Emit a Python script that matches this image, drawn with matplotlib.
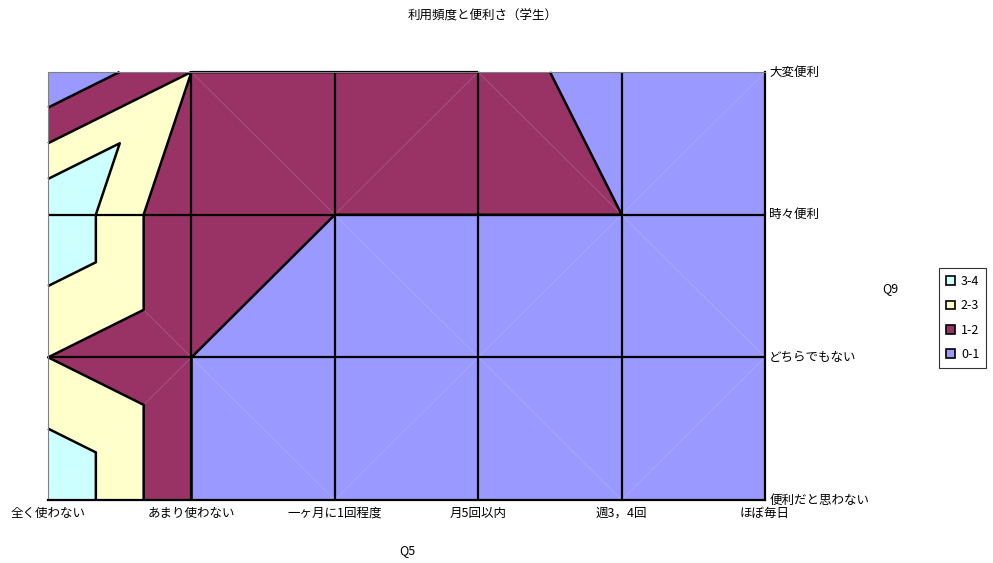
import numpy as np
import matplotlib
matplotlib.use('Agg')
import matplotlib.pyplot as plt
import matplotlib.tri as mtri
from matplotlib.patches import Patch

plt.rcParams['font.family'] = ['Noto Sans CJK JP', 'DejaVu Sans']

# Q5 利用頻度 (横軸) と Q9 便利さ (縦軸)
q5_labels = ['全く使わない', 'あまり使わない', '一ヶ月に1回程度', '月5回以内', '週3，4回', 'ほぼ毎日']
q9_labels = ['大変便利', '時々便利', 'どちらでもない', '便利だと思わない']  # 上から順

# 各行の値 (Q9 の上から順、列は Q5 の順)
z_taihen = [0, 2, 2, 2, 0, 0]
z_tokidoki = [4, 1, 1, 1, 1, 0]
z_dochira = [2, 1, 0, 0, 0, 0]
z_omowanai = [4, 1, 0, 0, 0, 0]

band_edges = [0, 1, 2, 3, 4]
band_labels = ['0-1', '1-2', '2-3', '3-4']
band_colors = ['#9999FF', '#993366', '#FFFFCC', '#CCFFFF']

Z = np.array([z_taihen, z_tokidoki, z_dochira, z_omowanai], dtype=float)
nrow, ncol = Z.shape

# 格子点 (行0が一番上)
xs, ys, zs = [], [], []
for i in range(nrow):
    for c in range(ncol):
        xs.append(c)
        ys.append(nrow - 1 - i)
        zs.append(Z[i, c])

def idx(i, c):
    return i * ncol + c

# セルごとに対角線の向きを交互に変えて三角形分割
triangles = []
for i in range(nrow - 1):
    for c in range(ncol - 1):
        tl, tr = idx(i, c), idx(i, c + 1)
        bl, br = idx(i + 1, c), idx(i + 1, c + 1)
        if (c + i) % 2 == 0:
            triangles += [[tl, tr, bl], [tr, br, bl]]
        else:
            triangles += [[tl, tr, br], [tl, br, bl]]

tri = mtri.Triangulation(xs, ys, triangles)

# 境界値ちょうどの点は上側の区間に入れる
eps = 1e-3
fill_levels = [v - eps for v in band_edges[:-1]] + [band_edges[-1] + eps]
line_levels = [v - eps for v in band_edges[1:-1]]

fig = plt.figure(figsize=(9.93, 5.63), dpi=100)
ax = fig.add_axes([48 / 993, 63 / 563, 717 / 993, 428 / 563])

ax.tricontourf(tri, zs, levels=fill_levels, colors=band_colors)
ax.triplot(tri, color='white', lw=0.5, alpha=0.2)
cs = ax.tricontour(tri, zs, levels=line_levels, colors='black', linewidths=1.8)
cs.set_clip_on(False)

# 目盛線
for c in range(1, ncol - 1):
    ax.axvline(c, color='black', lw=1.6)
for r in range(1, nrow - 1):
    ax.axhline(r, color='black', lw=1.6)

ax.set_xlim(0, ncol - 1)
ax.set_ylim(0, nrow - 1)
ax.set_xticks(range(ncol))
ax.set_xticklabels(q5_labels, fontsize=9)
ax.set_yticks(range(nrow))
ax.set_yticklabels(q9_labels[::-1], fontsize=9)
ax.yaxis.tick_right()
ax.tick_params(axis='x', length=0, pad=5)
ax.tick_params(axis='y', length=0, pad=3)
for lab in ax.get_yticklabels():
    lab.set_verticalalignment('center')

ax.spines['left'].set_color('#808080')
ax.spines['left'].set_linewidth(0.8)
ax.spines['top'].set_color('#808080')
ax.spines['top'].set_linewidth(0.8)
ax.spines['bottom'].set_linewidth(1.6)
ax.spines['right'].set_linewidth(1.6)

fig.text(483 / 993, 1 - 16 / 563, '利用頻度と便利さ（学生）', ha='center', va='center', fontsize=9)
fig.text(407 / 993, 1 - 551 / 563, 'Q5', ha='center', va='center', fontsize=9)
fig.text(890 / 993, 1 - 289 / 563, 'Q9', ha='center', va='center', fontsize=9)

handles = [Patch(facecolor=col, edgecolor='black', lw=1.2, label=lab)
           for col, lab in zip(band_colors[::-1], band_labels[::-1])]
leg = fig.legend(handles=handles, loc='center left', bbox_to_anchor=(939 / 993, 1 - 318 / 563),
                 fontsize=9, frameon=True, fancybox=False, handlelength=0.7, handleheight=0.7,
                 handletextpad=0.5, labelspacing=0.9, borderpad=0.55, borderaxespad=0)
leg.get_frame().set_edgecolor('black')
leg.get_frame().set_linewidth(0.8)

fig.savefig('out.png', dpi=100)
